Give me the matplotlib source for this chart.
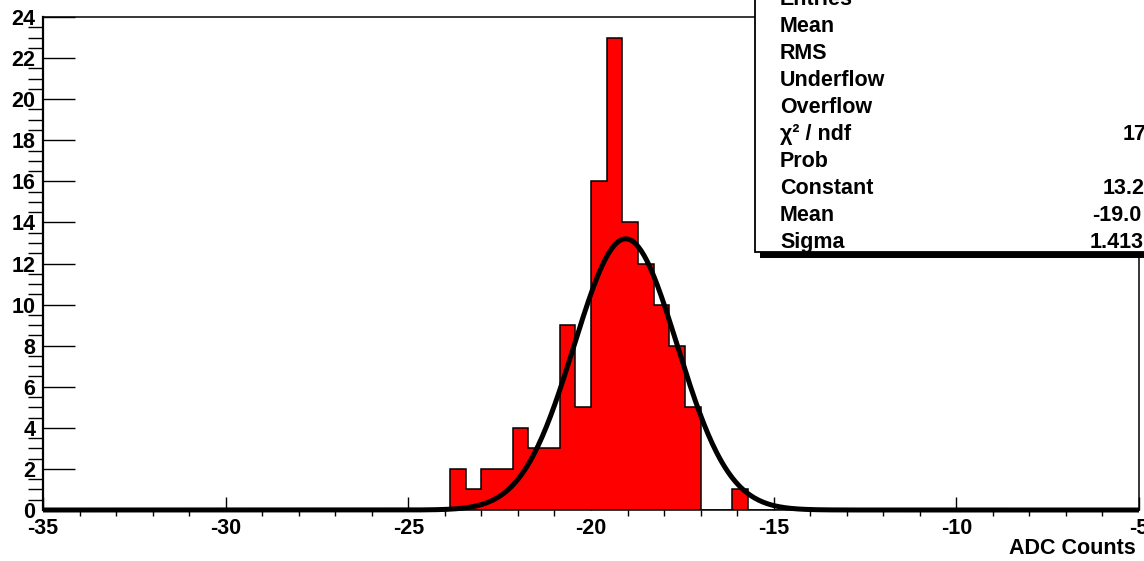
import numpy as np
import matplotlib
matplotlib.use('Agg')
import matplotlib.pyplot as plt
from matplotlib.patches import Rectangle
from matplotlib.ticker import MultipleLocator

# histogram contents, 70 bins from -35 to -5, non-empty part starts at bin 26
first_bin = 26
counts = [2, 1, 2, 2, 4, 3, 3, 9, 5, 16, 23, 14, 12, 10, 8, 5, 0, 0, 1]
n_bins = 70
x_lo, x_hi = -35, -5

# gaussian fit parameters (from the stats box)
fit_const = 13.2
fit_mean = -19.05
fit_sigma = 1.413

stat_labels = ['Entries', 'Mean', 'RMS', 'Underflow', 'Overflow', 'χ² / ndf', 'Prob',
               'Constant', 'Mean', 'Sigma']
stat_values = {'χ² / ndf': '17', 'Constant': '13.2', 'Mean2': '-19.0', 'Sigma': '1.413'}

plt.rcParams['font.family'] = ['Liberation Sans', 'DejaVu Sans']
plt.rcParams['font.weight'] = 'bold'
plt.rcParams['font.size'] = 15.5
plt.rcParams['axes.unicode_minus'] = False

W, H = 1144, 561
fx = lambda px: px / W
fy = lambda py: 1 - py / H

fig = plt.figure(figsize=(W / 100, H / 100), dpi=100)
ax = fig.add_axes([fx(43), fy(510), (1139 - 43) / W, (510 - 17) / H])

edges = np.linspace(x_lo, x_hi, n_bins + 1)
h = np.zeros(n_bins)
h[first_bin:first_bin + len(counts)] = counts

ax.stairs(h, edges, fill=True, color='#ff0000', zorder=2)
ax.stairs(h, edges, color='black', lw=1.1, zorder=3)

xf = np.linspace(x_lo, x_hi, 800)
yf = fit_const * np.exp(-0.5 * ((xf - fit_mean) / fit_sigma) ** 2)
ax.plot(xf, yf, color='black', lw=3.6, clip_on=False, solid_capstyle='butt', zorder=4)

ax.set_xlim(x_lo, x_hi)
ax.set_ylim(0, 24)
ax.xaxis.set_major_locator(MultipleLocator(5))
ax.xaxis.set_minor_locator(MultipleLocator(1))
ax.yaxis.set_major_locator(MultipleLocator(2))
ax.yaxis.set_minor_locator(MultipleLocator(0.5))
ax.tick_params(direction='in', width=1.0, pad=5.5)
ax.tick_params(which='minor', width=1.0)
ax.tick_params(axis='x', which='major', length=9.4)
ax.tick_params(axis='x', which='minor', length=4.3)
ax.tick_params(axis='y', which='major', length=23)
ax.tick_params(axis='y', which='minor', length=11)
for s in ax.spines.values():
    s.set_linewidth(1.1)
ax.spines['left'].set_linewidth(1.6)

fig.text(fx(1136), fy(548), 'ADC Counts', ha='right', va='center')

# stats box, partly outside the canvas
fig.add_artist(Rectangle((fx(760), fy(258)), 1, 1, transform=fig.transFigure,
                         facecolor='black', edgecolor='none', zorder=5))
fig.add_artist(Rectangle((fx(755), fy(252)), 1, 1, transform=fig.transFigure,
                         facecolor='white', edgecolor='black', lw=1.3, zorder=6))

base0 = 5
for i, lab in enumerate(stat_labels):
    yb = base0 + 27 * i
    fig.text(fx(780), fy(yb), lab, ha='left', va='baseline', zorder=7)
val_rows = [('χ² / ndf', 5, 1123), ('Constant', 7, 1103), ('Mean2', 8, 1092), ('Sigma', 9, 1090)]
for key, i, xl in val_rows:
    fig.text(fx(xl), fy(base0 + 27 * i), stat_values[key], ha='left', va='baseline', zorder=7)

fig.savefig('out.png', dpi=100)
